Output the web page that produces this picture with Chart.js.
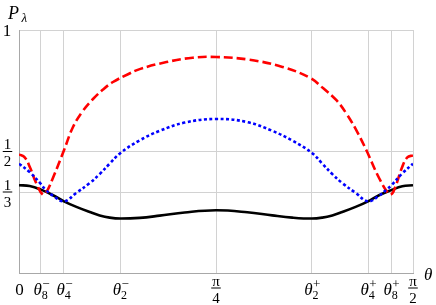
<!DOCTYPE html>
<html>
<head>
<meta charset="utf-8">
<script src="https://cdn.jsdelivr.net/npm/chart.js@4/dist/chart.umd.min.js"></script>
<style>
  body { margin: 0; background: #fff; }
  canvas { display: block; }
</style>
</head>
<body>
<canvas id="myChart" width="436" height="305"></canvas>
<script>
// tick positions (radians) and labels
var xTickValues = [0, 0.0877, 0.1794, 0.4035, Math.PI / 4, 1.1673, 1.3914, 1.4831, Math.PI / 2];
var xTickLabels = ['0', 'θ_8^−', 'θ_4^−', 'θ_2^−', 'π/4', 'θ_2^+', 'θ_4^+', 'θ_8^+', 'π/2'];
var yTickValues = [0, 1 / 3, 1 / 2, 1];
var yTickLabels = ['', '1/3', '1/2', '1'];

// black solid curve
var thetaBlack = [0, 0.0427, 0.0877, 0.1356, 0.1794, 0.2288, 0.2819, 0.3217, 0.3616, 0.4035, 0.4812, 0.5609, 0.6606, 0.7854,
    0.9102, 1.0099, 1.0896, 1.1681, 1.2092, 1.2491, 1.2889, 1.3420, 1.3914, 1.4353, 1.4839, 1.5281, 1.5708];
var pBlack = [0.361, 0.358, 0.343, 0.320, 0.295, 0.272, 0.251, 0.237, 0.228, 0.224, 0.227, 0.236, 0.249, 0.258,
    0.250, 0.237, 0.228, 0.224, 0.228, 0.237, 0.251, 0.272, 0.295, 0.320, 0.341, 0.357, 0.361];

// blue dotted curve
var thetaBlue = [0, 0.0427, 0.0877, 0.1036, 0.1356, 0.1794, 0.2288, 0.2819, 0.3217, 0.3616, 0.4035, 0.4812, 0.5609, 0.6606, 0.7854,
    0.9102, 1.0099, 1.0896, 1.1681, 1.2092, 1.2491, 1.2889, 1.3420, 1.3914, 1.4353, 1.4672, 1.4839, 1.5281, 1.5708];
var pBlue = [0.450, 0.415, 0.366, 0.345, 0.318, 0.295, 0.330, 0.370, 0.407, 0.450, 0.493, 0.546, 0.585, 0.619, 0.634,
    0.621, 0.585, 0.545, 0.494, 0.450, 0.407, 0.370, 0.330, 0.295, 0.318, 0.345, 0.360, 0.410, 0.450];

// red dashed curve
var thetaRed = [0, 0.0227, 0.0427, 0.0693, 0.0945, 0.1092, 0.1348, 0.1794, 0.2153, 0.2552, 0.2950, 0.3349, 0.3748, 0.4346, 0.4812,
    0.5877, 0.6925, 0.7854, 0.9170, 1.0502, 1.1590, 1.2120, 1.2654, 1.3053, 1.3452, 1.3850, 1.4360, 1.4763, 1.4918, 1.5281, 1.5481, 1.5708];
var pRed = [0.488, 0.476, 0.437, 0.368, 0.323, 0.333, 0.390, 0.505, 0.601, 0.668, 0.716, 0.755, 0.786, 0.818, 0.839,
    0.868, 0.886, 0.889, 0.878, 0.848, 0.804, 0.761, 0.711, 0.656, 0.587, 0.505, 0.390, 0.324, 0.333, 0.437, 0.476, 0.484];

function toPoints(xs, ys) {
    return xs.map(function(x, i) { return { x: x, y: ys[i] }; });
}

var serif = '"Liberation Serif", "DejaVu Serif", serif';

// fraction "a/b", bar at yb
function drawFraction(ctx, s, cx, yb) {
    var parts = s.split('/');
    ctx.font = '15px ' + serif;
    ctx.textAlign = 'center';
    ctx.textBaseline = 'alphabetic';
    var w = Math.max(ctx.measureText(parts[0]).width, ctx.measureText(parts[1]).width) + 2;
    ctx.fillText(parts[0], cx, yb - 2.5);
    ctx.fillText(parts[1], cx, yb + 14.5);
    ctx.fillRect(cx - w / 2, yb - 0.5, w, 1);
}

// symbol with subscript and superscript, baseline y
function drawSubSup(ctx, s, cx, y) {
    var base = s.split('_')[0];
    var sub = s.split('_')[1].split('^')[0];
    var sup = s.split('^')[1];
    ctx.textAlign = 'left';
    ctx.textBaseline = 'alphabetic';
    ctx.font = 'italic 17px ' + serif;
    var wb = ctx.measureText(base).width;
    ctx.font = '12px ' + serif;
    var ws = Math.max(ctx.measureText(sub).width, ctx.measureText(sup).width);
    var x0 = cx - (wb + ws) / 2;
    ctx.font = 'italic 17px ' + serif;
    ctx.fillText(base, x0, y);
    ctx.font = '12px ' + serif;
    ctx.fillText(sub, x0 + wb, y + 3.5);
    ctx.font = '13px ' + serif;
    ctx.fillText(sup, x0 + wb + 0.5, y - 7);
}

var labelPlugin = {
    id: 'mathLabels',
    afterDraw: function(chart) {
        var ctx = chart.ctx;
        var xs = chart.scales.x, ys = chart.scales.y;
        var area = chart.chartArea;
        ctx.save();
        ctx.fillStyle = '#000';
        xTickValues.forEach(function(v, i) {
            var s = xTickLabels[i];
            var px = xs.getPixelForValue(v);
            if (s.indexOf('/') >= 0) {
                drawFraction(ctx, s, px, area.bottom + 15);
            } else if (s.indexOf('_') >= 0) {
                drawSubSup(ctx, s, px, area.bottom + 22);
            } else {
                ctx.font = '17px ' + serif;
                ctx.textAlign = 'center';
                ctx.textBaseline = 'alphabetic';
                ctx.fillText(s, px + 0.5, area.bottom + 22);
            }
        });
        yTickValues.forEach(function(v, i) {
            var s = yTickLabels[i];
            if (!s) return;
            var py = ys.getPixelForValue(v);
            if (s.indexOf('/') >= 0) {
                drawFraction(ctx, s, area.left - 11.5, py);
            } else {
                ctx.font = '17px ' + serif;
                ctx.textAlign = 'center';
                ctx.textBaseline = 'alphabetic';
                ctx.fillText(s, area.left - 12, py + 6.3);
            }
        });
        // axis labels
        ctx.textAlign = 'left';
        ctx.font = 'italic 18px ' + serif;
        ctx.fillText('P', 8, 18.5);
        ctx.font = 'italic 13px ' + serif;
        ctx.fillText('λ', 21.5, 22);
        ctx.font = 'italic 17px ' + serif;
        ctx.fillText('θ', area.right + 11, area.bottom + 7);
        ctx.restore();
    }
};

var ctx = document.getElementById('myChart').getContext('2d');
var myChart = new Chart(ctx, {
    type: 'line',
    data: {
        datasets: [{
                label: 'blue',
                data: toPoints(thetaBlue, pBlue),
                borderColor: '#0000ff',
                borderWidth: 2.6,
                borderDash: [3, 2.5]
            },
            {
                label: 'red',
                data: toPoints(thetaRed, pRed),
                borderColor: '#ff0000',
                borderWidth: 2.6,
                borderDash: [9, 4]
            },
            {
                label: 'black',
                data: toPoints(thetaBlack, pBlack),
                borderColor: '#000000',
                borderWidth: 2.6
            }
        ]
    },
    options: {
        responsive: false,
        animation: false,
        elements: {
            point: { radius: 0 },
            line: { tension: 0.4, fill: false }
        },
        layout: { padding: { top: 30, right: 23, left: 0, bottom: 0 } },
        plugins: {
            legend: { display: false },
            tooltip: { enabled: false }
        },
        scales: {
            x: {
                type: 'linear',
                min: 0,
                max: Math.PI / 2,
                afterBuildTicks: function(scale) {
                    scale.ticks = xTickValues.map(function(v) { return { value: v }; });
                },
                afterFit: function(scale) { scale.height = 32; },
                ticks: { display: false },
                grid: { color: '#d2d2d2', lineWidth: 1, drawTicks: false },
                border: { color: '#a8a8a8', width: 1 }
            },
            y: {
                type: 'linear',
                min: 0,
                max: 1,
                afterBuildTicks: function(scale) {
                    scale.ticks = yTickValues.map(function(v) { return { value: v }; });
                },
                afterFit: function(scale) { scale.width = 19; },
                ticks: { display: false },
                grid: { color: '#d2d2d2', lineWidth: 1, drawTicks: false },
                border: { color: '#a8a8a8', width: 1 }
            }
        }
    },
    plugins: [labelPlugin]
});
</script>
</body>
</html>
